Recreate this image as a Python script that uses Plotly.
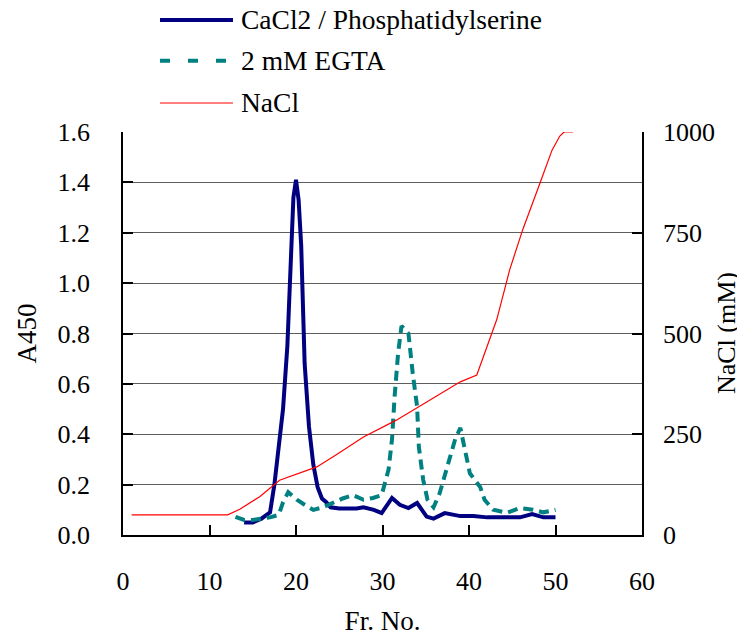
import plotly.graph_objects as go

# CaCl2 / Phosphatidylserine (A450)
ca_x = [14, 15, 16, 17, 17.5, 18, 18.5, 19, 19.5, 19.7, 20, 20.3, 20.6, 21, 21.5, 22, 22.5, 23, 23.5, 24,
        25, 27, 27.8, 29, 29.9, 31.1, 32, 33, 34, 35.1, 35.9, 37.2, 39, 40.5, 42.1, 44, 45.9, 47.3, 48.6, 50]
ca_y = [0.05, 0.05, 0.065, 0.09, 0.2, 0.35, 0.5, 0.75, 1.2, 1.34, 1.41, 1.33, 1.15, 0.68, 0.43, 0.28, 0.19, 0.145, 0.13, 0.11,
        0.105, 0.105, 0.11, 0.1, 0.087, 0.147, 0.12, 0.107, 0.127, 0.073, 0.065, 0.087, 0.075, 0.075, 0.07, 0.07, 0.07, 0.083, 0.07, 0.07]

# 2 mM EGTA (A450)
eg_x = [13, 14, 15, 16, 17, 18, 18.5, 19.1, 20.1, 21, 22, 23.1, 24, 25.4, 26.6, 27.8, 28.9, 29.9, 30.7, 31.1, 31.4, 31.8,
        32.2, 33, 33.5, 34, 34.2, 34.7, 35.2, 35.9, 36.6, 37.4, 38.4, 39, 39.5, 40.1, 41.3, 41.8, 42.8, 44.4, 45.9, 47.4, 48.6, 50]
eg_y = [0.072, 0.06, 0.06, 0.065, 0.07, 0.08, 0.13, 0.17, 0.14, 0.12, 0.1, 0.11, 0.125, 0.145, 0.158, 0.14, 0.147, 0.158, 0.26, 0.38, 0.55, 0.72,
        0.83, 0.8, 0.64, 0.51, 0.35, 0.22, 0.14, 0.11, 0.165, 0.26, 0.38, 0.425, 0.34, 0.245, 0.19, 0.14, 0.1, 0.088, 0.107, 0.1, 0.09, 0.1]

# NaCl (mM)
na_x = [1, 12.1, 13.5, 15.8, 18.1, 22.4, 24.7, 27.8, 31.6, 35.5, 37.8, 39, 40.9, 41.5, 43.2, 44.7, 46.2, 48.2, 49.6, 50.5, 51, 52]
na_y = [50, 50, 64, 95, 136, 169, 200, 243, 285, 335, 365, 380, 397, 434, 534, 658, 757, 873, 955, 990, 1000, 1000]

# Series names and styles
names = ["CaCl2 / Phosphatidylserine", "2 mM EGTA", "NaCl"]
styles = [dict(color="#000080", width=4),
          dict(color="#008080", width=4, dash="10px,6px"),
          dict(color="#FF0000", width=1.2)]
legend_styles = [dict(color="#000080", width=4),
                 dict(color="#008080", width=4, dash="10px,18px"),
                 dict(color="#FF0000", width=1.2)]

FONT = "Liberation Serif"
fig = go.Figure()
fig.add_trace(go.Scatter(x=ca_x, y=ca_y, mode="lines", name=names[0], line=styles[0]))
fig.add_trace(go.Scatter(x=eg_x, y=eg_y, mode="lines", name=names[1], line=styles[1]))
fig.add_trace(go.Scatter(x=na_x, y=na_y, mode="lines", name=names[2], yaxis="y2", line=styles[2]))

# Custom legend (long line samples like the original)
legend_rows = [1.278, 1.177, 1.072]
for name, st, yy in zip(names, legend_styles, legend_rows):
    fig.add_shape(type="line", xref="paper", yref="paper", x0=0.0713, x1=0.2119, y0=yy, y1=yy, line=st)
    fig.add_annotation(text=name, xref="paper", yref="paper", x=0.2254, y=yy, xanchor="left", yanchor="middle",
                       showarrow=False, borderpad=0, font=dict(family=FONT, size=27.5, color="black"))

# Right axis title
fig.add_annotation(text="NaCl (mM)", xref="paper", yref="paper", x=1.163, y=0.5, textangle=-90,
                   xanchor="center", yanchor="middle", showarrow=False, borderpad=0,
                   font=dict(family=FONT, size=26, color="black"))

# The page body has an 8px default margin, so the figure is 8px smaller than the window
fig.update_layout(
    template="none",
    width=737, height=628,
    margin=dict(l=115, r=103, t=124, b=101),
    paper_bgcolor="white", plot_bgcolor="white",
    font=dict(family=FONT, size=26, color="black"),
    showlegend=False,
    xaxis=dict(range=[0, 60], tickvals=[0, 10, 20, 30, 40, 50, 60], ticks="inside", ticklen=10,
               tickcolor="black", tickwidth=1.5, showline=True, linecolor="black", linewidth=1.5, showgrid=False,
               zeroline=False, ticklabelstandoff=22, automargin=False,
               tickfont=dict(family=FONT, size=26),
               title=dict(text="Fr. No.", standoff=16, font=dict(family=FONT, size=27))),
    yaxis=dict(range=[0, 1.6], tickvals=[0, 0.2, 0.4, 0.6, 0.8, 1.0, 1.2, 1.4, 1.6],
               ticktext=["0.0", "0.2", "0.4", "0.6", "0.8", "1.0", "1.2", "1.4", "1.6"],
               ticks="inside", ticklen=10, tickcolor="black", tickwidth=1.5, showline=True, linecolor="black",
               linewidth=1.5, showgrid=True, gridcolor="#5e5e5e", gridwidth=1.3, zeroline=False,
               ticklabelstandoff=26, automargin=False, tickfont=dict(family=FONT, size=26),
               title=dict(text="A450", standoff=13, font=dict(family=FONT, size=27))),
    yaxis2=dict(range=[0, 1000], tickvals=[0, 250, 500, 750, 1000], overlaying="y", side="right",
                ticks="inside", ticklen=10, tickcolor="black", tickwidth=1.5, showline=True, linecolor="black",
                linewidth=1.5, showgrid=False, zeroline=False, ticklabelstandoff=14, automargin=False,
                tickfont=dict(family=FONT, size=26)),
)

fig.write_html("out.html")
